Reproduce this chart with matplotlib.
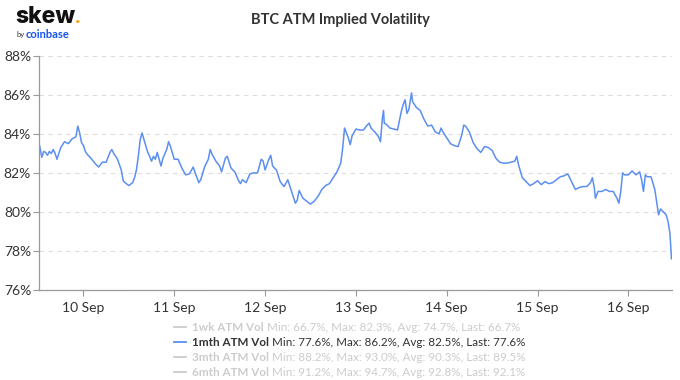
import pandas as pd
import matplotlib.pyplot as plt
from matplotlib.lines import Line2D

plt.rcParams['font.family'] = ['Lato', 'DejaVu Sans']

# hours after 9 Sep 12:00 and 1mth ATM implied vol (%)
hours = [0.4, 0.5, 1, 1.5, 2, 2.5, 3, 3.5, 4, 4.5, 5, 6, 7, 8, 9, 10, 10.5, 11, 11.5, 12,
         12.5, 13, 14, 15, 16, 17, 18, 19, 19.5, 20, 21, 22, 22.5, 23, 24,
         25, 25.5, 26, 26.5, 27, 27.5, 28, 29, 29.5, 30, 30.5, 31, 31.5, 32, 32.5, 33, 34,
         34.5, 35, 36, 37, 38, 39, 40, 41, 42, 42.5, 43, 44, 45, 45.5, 46, 47, 48,
         48.5, 49, 49.5, 50, 51, 52, 53, 53.5, 54, 55, 56, 57, 58, 59, 59.5, 60, 61, 61.5,
         62, 63, 64, 65, 66, 67, 68, 68.5, 69, 70, 71, 72,
         73, 74, 75, 76, 77, 78, 79, 80, 80.5, 81, 81.5, 82, 82.5, 83, 84, 85, 86, 87,
         87.5, 88, 89, 90, 90.5, 91, 91.3, 91.5, 92, 93, 94, 95, 96,
         96.5, 97, 97.5, 98, 98.7, 99, 100, 101, 102, 103, 104, 105, 106, 106.5, 107, 108,
         109, 110, 111, 112, 112.5, 113, 114, 115, 116, 117, 118, 119, 120,
         121, 122, 123, 124, 125, 126, 126.5, 127, 128, 129, 130, 131, 132, 133, 134, 135,
         136, 137, 138, 139, 140, 141, 142, 143,
         144, 145, 146, 146.5, 147, 147.3, 148, 149, 150, 151, 152, 153, 153.5, 154, 154.5,
         155, 156, 157, 158, 159, 159.5, 160, 160.5, 161, 162, 163, 164, 164.5, 165, 166,
         166.5, 167, 167.4]
vol_1m = [83.4, 83.3, 82.8, 83.1, 83.05, 82.9, 83.1, 83.0, 83.2, 83.0, 82.7, 83.3, 83.6, 83.5, 83.75, 83.85, 84.4, 84.05, 83.55, 83.4,
          83.1, 82.95, 82.75, 82.5, 82.3, 82.55, 82.55, 83.05, 83.2, 83.0, 82.7, 82.15, 81.6, 81.5, 81.35,
          81.5, 81.75, 82.15, 82.85, 83.7, 84.05, 83.7, 83.05, 82.85, 82.6, 82.85, 82.7, 83.05, 82.7, 82.35, 82.75, 83.2,
          83.6, 83.35, 82.7, 82.7, 82.25, 81.9, 81.95, 82.3, 81.75, 81.5, 81.65, 82.3, 82.7, 83.2, 82.95, 82.6, 82.35,
          82.05, 82.4, 82.75, 82.85, 82.25, 82.05, 81.6, 81.45, 81.65, 81.5, 81.95, 82.0, 82.0, 82.7, 82.6, 82.15, 82.7, 82.9,
          82.35, 82.15, 81.55, 81.3, 81.65, 81.05, 80.45, 80.6, 81.1, 80.7, 80.55, 80.4,
          80.55, 80.8, 81.15, 81.35, 81.45, 81.75, 82.05, 82.5, 83.25, 84.3, 84.05, 83.8, 83.45, 83.9, 84.25, 84.2, 84.2, 84.45,
          84.55, 84.3, 84.1, 83.85, 83.6, 84.8, 85.2, 84.55, 84.5, 84.3, 84.25, 84.2, 85.15,
          85.5, 85.75, 85.05, 85.25, 86.1, 85.65, 85.35, 85.2, 84.75, 84.4, 84.45, 84.1, 84.0, 84.3, 84.1, 83.8,
          83.5, 83.4, 83.35, 83.95, 84.45, 84.4, 84.1, 83.55, 83.25, 83.05, 83.35, 83.3, 83.15,
          82.75, 82.55, 82.5, 82.5, 82.55, 82.6, 82.85, 82.4, 81.75, 81.55, 81.35, 81.45, 81.6, 81.4, 81.55, 81.45,
          81.5, 81.65, 81.8, 81.85, 81.95, 81.55, 81.15, 81.25,
          81.3, 81.3, 81.5, 81.75, 81.25, 80.7, 81.05, 81.05, 81.15, 81.05, 81.05, 80.7, 80.45, 81.05, 82.0,
          81.9, 81.9, 82.1, 81.9, 82.05, 81.65, 81.05, 81.9, 81.8, 81.8, 81.15, 79.85, 80.15, 80.05, 79.85,
          79.5, 78.9, 77.6]

day_labels = ['10 Sep', '11 Sep', '12 Sep', '13 Sep', '14 Sep', '15 Sep', '16 Sep']

legend_names = ['1wk ATM Vol', '1mth ATM Vol', '3mth ATM Vol', '6mth ATM Vol']
legend_stats = ['Min: 66.7%, Max: 82.3%, Avg: 74.7%, Last: 66.7%',
                'Min: 77.6%, Max: 86.2%, Avg: 82.5%, Last: 77.6%',
                'Min: 88.2%, Max: 93.0%, Avg: 90.3%, Last: 89.5%',
                'Min: 91.2%, Max: 94.7%, Avg: 92.8%, Last: 92.1%']
legend_active = [False, True, False, False]

start = pd.Timestamp('2020-09-09 12:00')
t = start + pd.to_timedelta(hours, unit='h')

fig = plt.figure(figsize=(6.8, 3.8), dpi=100)
ax = fig.add_axes([0.058, 0.237, 0.93, 0.616])

blue = '#5b8ff0'
ax.plot(t, vol_1m, color=blue, lw=1.1)

ax.set_ylim(76, 88)
ax.set_yticks(range(76, 89, 2))
ax.set_yticklabels(['%d%%' % v for v in range(76, 89, 2)])
ax.set_xlim(start + pd.Timedelta(hours=0.37), start + pd.Timedelta(hours=167.5))
ticks = [pd.Timestamp('2020-09-%d' % d) for d in range(10, 17)]
ax.set_xticks(ticks)
ax.set_xticklabels(day_labels)

ax.grid(axis='y', color='#dddddd', ls=(0, (4, 4)), lw=0.8)
ax.set_axisbelow(True)
for s in ['top', 'right']:
    ax.spines[s].set_visible(False)
for s in ['left', 'bottom']:
    ax.spines[s].set_color('#999999')
    ax.spines[s].set_linewidth(0.9)
ax.tick_params(axis='both', colors='#999999', length=4, width=0.8, labelsize=10,
               labelcolor='#333333')
ax.tick_params(axis='x', pad=5)
ax.tick_params(axis='y', pad=2)

# title
fig.text(0.5, 0.947, 'BTC ATM Implied Volatility', ha='center', va='center',
         fontsize=10.5, fontweight='bold', color='#333333')

# logo
skew = fig.text(0.022, 0.940, 'skew', ha='left', va='baseline', fontsize=16.5,
                fontweight='heavy', color='#111111', family=['Inter', 'DejaVu Sans'])
ax.annotate('.', xy=(1.0, 0.2), xycoords=skew, ha='left', va='baseline',
            fontsize=16.5, fontweight='bold', color='#f5a623', annotation_clip=False)
fig.text(0.024, 0.908, 'by', ha='left', va='center', fontsize=5.5, color='#333333')
fig.text(0.038, 0.910, 'coinbase', ha='left', va='center', fontsize=8,
         fontweight='bold', color='#1652f0')

# legend
row_y = [0.139, 0.099, 0.060, 0.021]
for name, stats, active, y in zip(legend_names, legend_stats, legend_active, row_y):
    col = '#333333' if active else '#cccccc'
    lcol = blue if active else '#cccccc'
    fig.add_artist(Line2D([0.256, 0.274], [y, y], color=lcol, lw=1.3,
                          transform=fig.transFigure))
    t1 = fig.text(0.283, y, name, ha='left', va='center', fontsize=8.4,
                  fontweight='bold', color=col)
    ax.annotate(' ' + stats, xy=(1, 0.5), xycoords=t1, ha='left', va='center',
                fontsize=8.4, color=col, annotation_clip=False)

fig.savefig('out.png', dpi=100)
